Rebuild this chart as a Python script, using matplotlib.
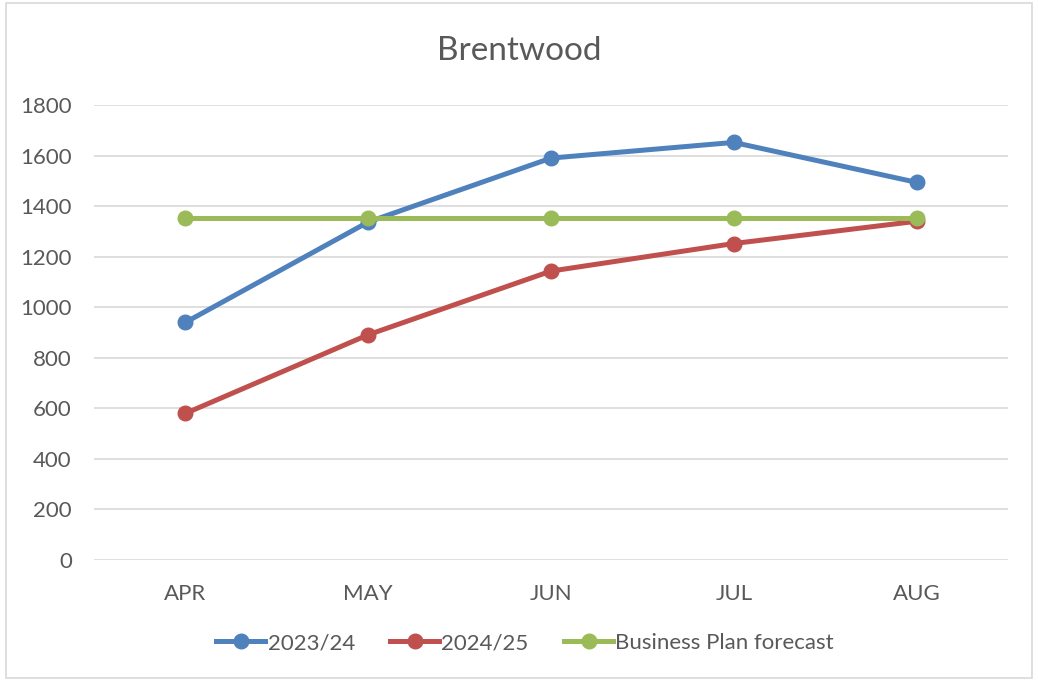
import matplotlib.pyplot as plt
from matplotlib.patches import Rectangle

plt.rcParams['font.family'] = ['Lato', 'DejaVu Sans']

months = ["APR", "MAY", "JUN", "JUL", "AUG"]
fy_2023 = [940, 1337, 1590, 1652, 1494]
fy_2024 = [580, 891, 1143, 1252, 1340]
forecast = [1354, 1354, 1354, 1354, 1354]

text_grey = "#595959"

fig = plt.figure(figsize=(10.38, 6.8), dpi=100)
fig.patches.append(Rectangle((6 / 1038, 2 / 680), 1026 / 1038, 675 / 680,
                             transform=fig.transFigure, fill=False,
                             edgecolor="#d9d9d9", linewidth=1.2))
ax = fig.add_axes([94 / 1038, 1 - 560 / 680, 914 / 1038, 455 / 680])

x = range(len(months))
ax.plot(x, fy_2023, color="#4F81BD", lw=3.6, marker="o", ms=10.5, label="2023/24")
ax.plot(x, fy_2024, color="#C0504D", lw=3.6, marker="o", ms=10.5, label="2024/25")
ax.plot(x, forecast, color="#9BBB59", lw=3.6, marker="o", ms=10.5, label="Business Plan forecast")

ax.set_xlim(-0.5, 4.5)
ax.set_ylim(0, 1800)
ax.set_yticks(range(0, 1801, 200))
ax.set_xticks(list(x))
ax.set_xticklabels(months)
ax.grid(axis="y", color="#d9d9d9", lw=1.2)
ax.set_axisbelow(True)
for s in ax.spines.values():
    s.set_visible(False)
ax.tick_params(length=0, labelsize=16, labelcolor=text_grey)
ax.tick_params(axis="y", pad=16)
ax.tick_params(axis="x", pad=17)

fig.text(0.5, 1 - 51 / 680, "Brentwood", ha="center", va="center",
         fontsize=24, color=text_grey)
fig.legend(loc="center", bbox_to_anchor=(0.506, 1 - 643 / 680), ncol=3,
           frameon=False, fontsize=16, labelcolor=text_grey,
           handlelength=2.2, handletextpad=0.1, columnspacing=1.6)

fig.savefig("out.png", dpi=100)
